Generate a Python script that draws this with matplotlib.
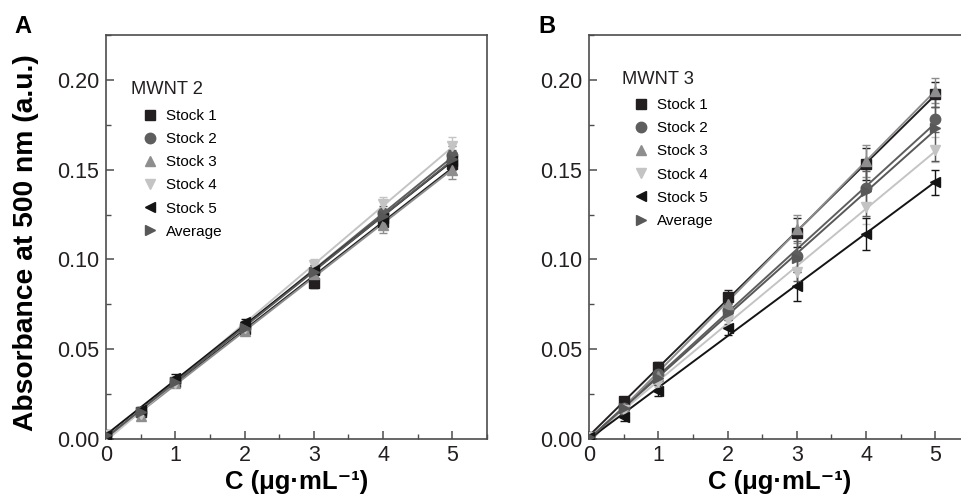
import numpy as np
import matplotlib
matplotlib.use("Agg")
import matplotlib.pyplot as plt
from matplotlib.ticker import MultipleLocator

plt.rcParams['font.family'] = ['Liberation Sans', 'DejaVu Sans']

# concentrations (ug/mL)
conc = [0, 0.5, 1, 2, 3, 4, 5]
labels = ["Stock 1", "Stock 2", "Stock 3", "Stock 4", "Stock 5", "Average"]

# panel A - MWNT 2
a_stock1 = [0.002, 0.015, 0.032, 0.061, 0.087, 0.121, 0.153]
a_stock2 = [0.002, 0.015, 0.032, 0.062, 0.093, 0.126, 0.158]
a_stock3 = [0.001, 0.013, 0.031, 0.060, 0.092, 0.119, 0.150]
a_stock4 = [0.002, 0.014, 0.031, 0.062, 0.097, 0.131, 0.163]
a_stock5 = [0.002, 0.016, 0.034, 0.065, 0.094, 0.123, 0.155]
a_avg = [0.002, 0.015, 0.032, 0.062, 0.093, 0.124, 0.156]
a_err = [0.001, 0.002, 0.002, 0.002, 0.003, 0.004, 0.005]

# panel B - MWNT 3
b_stock1 = [0.001, 0.021, 0.040, 0.079, 0.115, 0.153, 0.192]
b_stock2 = [0.001, 0.017, 0.036, 0.072, 0.102, 0.140, 0.178]
b_stock3 = [0.001, 0.017, 0.035, 0.075, 0.117, 0.155, 0.194]
b_stock4 = [0.001, 0.016, 0.032, 0.066, 0.093, 0.129, 0.161]
b_stock5 = [0.001, 0.012, 0.027, 0.062, 0.085, 0.114, 0.143]
b_avg = [0.001, 0.017, 0.034, 0.070, 0.101, 0.138, 0.173]
b_err = [0.001, 0.003, 0.004, 0.006, 0.013, 0.014, 0.018]
b_err4 = [0.001, 0.002, 0.003, 0.004, 0.008, 0.009, 0.007]

colors = ["#231f20", "#5e5e5e", "#8e8e8e", "#c4c4c4", "#141414", "#585858"]
markers = ["s", "o", "^", "v", "<", ">"]


def draw_panel(ax, series, errs, title, title_xy, leg_xy):
    for i, y in enumerate(series):
        k, b = np.polyfit(conc, y, 1)
        xs = np.array([0, 5])
        ax.plot(xs, k * xs + b, color=colors[i], lw=1.4, zorder=2)
        ax.errorbar(conc, y, yerr=errs[i], fmt="none", ecolor=colors[i],
                    elinewidth=1.0, capsize=3, capthick=1.0, zorder=3)
        ax.plot(conc, y, ls="none", marker=markers[i], ms=7.5,
                color=colors[i], label=labels[i], zorder=4)
    ax.set_xlim(0, 5.5)
    ax.set_ylim(0, 0.225)
    ax.xaxis.set_major_locator(MultipleLocator(1))
    ax.xaxis.set_minor_locator(MultipleLocator(0.5))
    ax.yaxis.set_major_locator(MultipleLocator(0.05))
    ax.yaxis.set_minor_locator(MultipleLocator(0.025))
    ax.yaxis.set_major_formatter(lambda v, p: "%.2f" % v)
    ax.tick_params(which="both", direction="in", color="#4d4d4d",
                   labelsize=15.5, labelcolor="#231f20")
    ax.tick_params(which="major", length=6, width=1.1)
    ax.tick_params(which="minor", length=3.5, width=1.0)
    ax.tick_params(axis="y", pad=5)
    ax.tick_params(axis="x", pad=4)
    for s in ax.spines.values():
        s.set_color("#4d4d4d")
        s.set_linewidth(1.2)
    ax.set_xlabel("C (μg·mL⁻¹)", fontsize=18.5, fontweight="bold", labelpad=3)
    ax.text(title_xy[0], title_xy[1], title, transform=ax.transAxes,
            fontsize=13.2, color="#231f20", ha="left", va="top")
    ax.legend(loc="upper left", bbox_to_anchor=leg_xy,
              frameon=False, fontsize=11, borderpad=0,
              handlelength=1.2, handletextpad=0.45, labelspacing=0.6,
              borderaxespad=0)


fig = plt.figure(figsize=(9.61, 5.04), dpi=100)
axA = fig.add_axes([106 / 961, 65 / 504, 381 / 961, 404 / 504])
axB = fig.add_axes([589 / 961, 65 / 504, 381 / 961, 404 / 504])

draw_panel(axA, [a_stock1, a_stock2, a_stock3, a_stock4, a_stock5, a_avg],
           [a_err] * 6, "MWNT 2", (0.066, 0.886), (0.092, 0.817))
draw_panel(axB, [b_stock1, b_stock2, b_stock3, b_stock4, b_stock5, b_avg],
           [b_err4, b_err4, b_err4, b_err4, b_err4, b_err], "MWNT 3",
           (0.087, 0.911), (0.113, 0.844))

axA.set_ylabel("Absorbance at 500 nm (a.u.)", fontsize=20.3, fontweight="bold")
axA.yaxis.set_label_coords(-0.175, 0.485)

fig.text(14 / 961, 1 - 33 / 504, "A", fontsize=17, fontweight="bold")
fig.text(538 / 961, 1 - 33 / 504, "B", fontsize=17, fontweight="bold")

plt.savefig("out.png", dpi=100)
